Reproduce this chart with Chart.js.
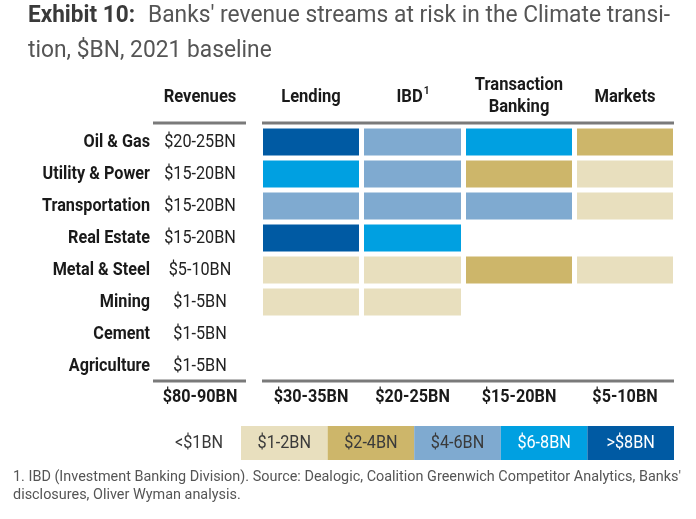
<!DOCTYPE html>
<html>
<head>
<meta charset="utf-8">
<script src="https://cdn.jsdelivr.net/npm/chart.js@4.4.1/dist/chart.umd.min.js"></script>
<style>
  html, body { margin: 0; padding: 0; background: #fff; }
  canvas { display: block; }
</style>
</head>
<body>
<canvas id="chart" width="696" height="519"></canvas>
<script>
// rows and columns of the table
const sectors = ['Oil & Gas', 'Utility & Power', 'Transportation', 'Real Estate', 'Metal & Steel', 'Mining', 'Cement', 'Agriculture'];
const revenues = ['$20-25BN', '$15-20BN', '$15-20BN', '$15-20BN', '$5-10BN', '$1-5BN', '$1-5BN', '$1-5BN'];
const revenueTotal = '$80-90BN';
const businesses = ['Lending', 'IBD', 'Transaction Banking', 'Markets'];
const businessTotals = ['$30-35BN', '$20-25BN', '$15-20BN', '$5-10BN'];

// revenue band per cell (0 = <$1BN ... 5 = >$8BN)
const lending = [5, 4, 3, 5, 1, 1, 0, 0];
const ibd = [3, 3, 3, 4, 1, 1, 0, 0];
const transactionBanking = [4, 2, 3, 0, 2, 0, 0, 0];
const markets = [2, 1, 1, 0, 1, 0, 0, 0];

const bandLabels = ['<$1BN', '$1-2BN', '$2-4BN', '$4-6BN', '$6-8BN', '>$8BN'];
const bandColors = ['#ffffff', '#e8dfbe', '#cdb66a', '#7faad0', '#00a0e1', '#005aa3'];
const bandText = ['#3a3a3a', '#3a3a3a', '#3a3a3a', '#3a3a3a', '#fff', '#fff'];

// layout (column widths in x-axis units)
const colWidths = [1.01, 1.02, 1.11, 1.01];
const cellGap = 0.05;
const FONT = 'Roboto, sans-serif';
const SX = 0.9;

const colStarts = [];
var acc = 0;
for (var i = 0; i < colWidths.length; i++) { colStarts.push(acc); acc += colWidths[i]; }

function cells(levels, col) {
  return levels.map(function(l) {
    return l > 0 ? [colStarts[col], colStarts[col] + colWidths[col] - cellGap] : null;
  });
}

const columns = [lending, ibd, transactionBanking, markets];
const datasets = columns.map(function(levels, c) {
  return {
    label: businesses[c],
    data: cells(levels, c),
    backgroundColor: levels.map(function(l) { return bandColors[l]; }),
    borderWidth: 0,
    borderSkipped: false,
    barPercentage: 0.84,
    categoryPercentage: 1,
    grouped: false
  };
});

function txt(ctx, s, x, y, font, color, align, sx) {
  ctx.save();
  ctx.font = font;
  ctx.fillStyle = color;
  ctx.textBaseline = 'middle';
  ctx.textAlign = align || 'center';
  ctx.translate(x, y);
  ctx.scale(sx || SX, 1);
  ctx.fillText(s, 0, 0);
  ctx.restore();
}

function widthOf(ctx, s, font) {
  ctx.save();
  ctx.font = font;
  var w = ctx.measureText(s).width;
  ctx.restore();
  return w;
}

const tablePlugin = {
  id: 'tableText',
  afterDraw: function(chart) {
    var ctx = chart.ctx;
    var xs = chart.scales.x, ys = chart.scales.y;
    var area = chart.chartArea;

    // title, each part fitted to its span
    var boldF = 'bold 23px ' + FONT, regF = '23px ' + FONT;
    var part1 = 'Exhibit 10:', part2 = "Banks' revenue streams at risk in the Climate transi-";
    var bsx = 107 / widthOf(ctx, part1, boldF);
    var rsx = 522 / widthOf(ctx, part2, regF);
    txt(ctx, part1, 28, 16, boldF, '#3a3a3a', 'left', bsx);
    txt(ctx, part2, 148, 16, regF, '#555', 'left', rsx);
    txt(ctx, 'tion, $BN, 2021 baseline', 28, 51, regF, '#555', 'left', rsx);

    // column headers
    var hdr = 'bold 18px ' + FONT;
    var hsx = 0.92;
    txt(ctx, 'Revenues', 200, 97, hdr, '#1a1a1a', 'center', hsx);
    var centers = businesses.map(function(b, c) {
      return (xs.getPixelForValue(colStarts[c]) + xs.getPixelForValue(colStarts[c] + colWidths[c] - cellGap)) / 2;
    });
    txt(ctx, 'Lending', centers[0], 97, hdr, '#1a1a1a', 'center', hsx);
    var ibdW = widthOf(ctx, 'IBD', hdr) * hsx;
    var supW = widthOf(ctx, '1', 'bold 11px ' + FONT) * hsx;
    var ibdX = centers[1] - (ibdW + supW) / 2;
    txt(ctx, 'IBD', ibdX, 97, hdr, '#1a1a1a', 'left', hsx);
    txt(ctx, '1', ibdX + ibdW + 1, 91, 'bold 11px ' + FONT, '#1a1a1a', 'left', hsx);
    txt(ctx, 'Transaction', centers[2], 85, hdr, '#1a1a1a', 'center', hsx);
    txt(ctx, 'Banking', centers[2], 107, hdr, '#1a1a1a', 'center', hsx);
    txt(ctx, 'Markets', centers[3], 97, hdr, '#1a1a1a', 'center', hsx);

    // rules
    ctx.save();
    ctx.strokeStyle = '#7a7a7a';
    ctx.lineWidth = 3;
    [area.top - 3, area.bottom - 1].forEach(function(y) {
      ctx.beginPath();
      ctx.moveTo(153, y); ctx.lineTo(246, y);
      ctx.moveTo(area.left - 1, y); ctx.lineTo(area.right + 1, y);
      ctx.stroke();
    });
    ctx.restore();

    // row labels and revenues
    sectors.forEach(function(s, r) {
      var y = ys.getPixelForValue(r);
      txt(ctx, s, 150, y, 'bold 18px ' + FONT, '#1a1a1a', 'right');
      txt(ctx, revenues[r], 200, y, '18px ' + FONT, '#222', 'center');
    });

    // totals
    var ty = area.bottom + 15;
    txt(ctx, revenueTotal, 200, ty, 'bold 18px ' + FONT, '#1a1a1a');
    businessTotals.forEach(function(t, c) {
      txt(ctx, t, centers[c], ty, 'bold 18px ' + FONT, '#1a1a1a');
    });

    // colour key
    var lx = 241, lw = 86.6, ly = 426, lh = 34;
    txt(ctx, bandLabels[0], 199, ly + lh / 2, '18px ' + FONT, '#3a3a3a');
    for (var b = 1; b < bandLabels.length; b++) {
      var x0 = lx + (b - 1) * lw;
      ctx.fillStyle = bandColors[b];
      ctx.fillRect(x0, ly, lw, lh);
      txt(ctx, bandLabels[b], x0 + lw / 2, ly + lh / 2, '18px ' + FONT, bandText[b]);
    }

    // footnote, fitted to the width of its first line
    var fn = '14px ' + FONT;
    var f1 = "1. IBD (Investment Banking Division). Source: Dealogic, Coalition Greenwich Competitor Analytics, Banks'";
    var fsx = 668 / widthOf(ctx, f1, fn);
    txt(ctx, f1, 13, 477, fn, '#555', 'left', fsx);
    txt(ctx, 'disclosures, Oliver Wyman analysis.', 13, 495, fn, '#555', 'left', fsx);
  }
};

new Chart(document.getElementById('chart'), {
  type: 'bar',
  data: { labels: sectors, datasets: datasets },
  options: {
    indexAxis: 'y',
    responsive: false,
    animation: false,
    layout: { padding: { left: 263, right: 23, top: 126, bottom: 137 } },
    plugins: { legend: { display: false }, tooltip: { enabled: false } },
    scales: {
      x: { type: 'linear', min: 0, max: 4.10, display: false },
      y: { type: 'category', display: false }
    }
  },
  plugins: [tablePlugin]
});
</script>
</body>
</html>
